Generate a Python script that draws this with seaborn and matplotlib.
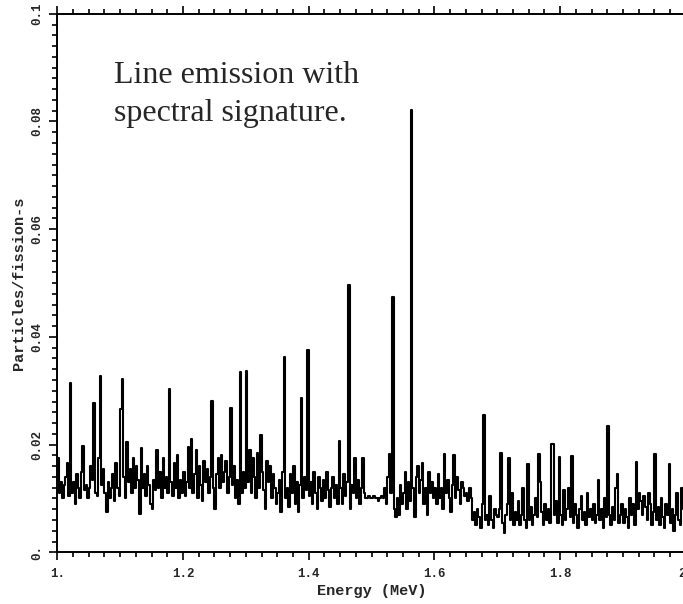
import numpy as np
import pandas as pd
import matplotlib
matplotlib.use("Agg")
import matplotlib.pyplot as plt
from matplotlib.ticker import MultipleLocator, FixedLocator, FixedFormatter
import seaborn as sns

# ---------------- data ----------------
E_START = 1.0          # MeV, lower edge of first bin
BIN_WIDTH = 0.0025     # MeV
# particles/fission-s in units of 1e-3, one value per bin (1.0 -> 2.0 MeV)
counts_milli = [
    17.5, 11, 13, 10, 12.5, 14, 16.5, 10.5, 31.5, 11, 13, 9, 14.5, 12, 10, 15, 19.8, 11.5, 12.5, 10,
    12, 16, 13.5, 27.7, 11, 10.5, 17.5, 32.7, 12.5, 15.5, 11, 7.5, 13, 10, 12, 14.5, 9.5, 16.5, 12, 10.5,
    26.6, 32.2, 14, 10, 20.5, 13, 15.5, 11, 17.5, 12, 16, 13.5, 7.2, 19.4, 12, 14.5, 10.5, 16, 12.5, 9,
    8, 13.5, 11.5, 19, 12, 15, 10, 17.5, 12, 14, 11, 30.4, 13, 10.5, 16.5, 12, 18, 10, 13.5, 11,
    15, 10.5, 13, 19.5, 12, 21, 11, 14.5, 19, 10, 16, 12.5, 9.5, 17, 13, 15.5, 11, 14, 28.1, 12,
    8, 14.5, 17.5, 12, 18, 13, 15, 17, 11, 14, 26.8, 12.5, 16, 10, 13.5, 9, 33.5, 11, 15, 12,
    33.7, 13, 19, 11, 17.5, 14, 10, 18.5, 12, 21.8, 15, 11.5, 8, 17, 13, 16, 10, 14.5, 12, 9,
    11, 13.5, 7.5, 15, 36.2, 10, 12, 8.5, 14.5, 11, 16, 9, 13, 7.5, 12.5, 28.6, 10, 14, 11.5, 37.5,
    10.5, 13, 9, 15, 11, 8, 14, 12, 9.5, 13.5, 10, 15, 11.5, 8.5, 12, 14, 10, 12.5, 9, 20.6,
    12, 9, 14.5, 10.5, 13, 49.7, 8, 12.5, 11, 17.5, 10, 13.5, 9, 12, 17.5, 11, 10, 10, 10.5, 10,
    10, 10.5, 10, 10, 9.5, 10, 10.5, 10, 12, 9, 14, 18.2, 11, 47.4, 8, 6.5, 10, 7, 12.5, 9,
    11, 15, 8, 13, 9.5, 82.2, 12, 6.5, 14, 16, 11, 13.5, 16.5, 9, 12, 7, 15, 11, 13, 10,
    12, 9, 14.5, 10, 12, 8, 18.2, 11, 13.5, 10, 7.5, 12.5, 18, 10, 14, 11.5, 9, 13, 12, 10.5,
    11, 9.5, 12, 10, 6, 7.5, 5, 8, 6.5, 4.5, 9, 25.5, 6, 7, 5, 10.5, 6, 4.5, 8, 7,
    6.5, 8, 18.4, 5.5, 3.5, 7, 9, 17.5, 6, 11, 5, 7.5, 6, 9.5, 5, 7, 12, 6, 4.5, 16.4,
    6, 8.5, 5, 7, 10, 6.5, 18.2, 13, 7.5, 5, 9, 6, 8, 5.5, 20.2, 20.2, 7, 9.5, 5.5, 17.7,
    7, 5, 11.5, 6, 8, 12, 6.5, 17.9, 5.5, 9, 7, 4.5, 8, 10.5, 6, 7.5, 5, 11, 6.5, 8,
    6, 9, 5.5, 7, 13.5, 6, 8, 4.5, 10, 6.5, 23.4, 7, 5, 8.5, 6, 12, 14.5, 5.5, 7, 9,
    5.5, 8, 6.5, 4.5, 10, 7, 9, 5, 16.8, 8, 11, 9.5, 7, 10.5, 8.5, 6, 11, 9, 5, 7.5,
    18.2, 6, 8.5, 5, 10, 6.5, 4.5, 9, 7, 16.4, 5.5, 8, 4, 7, 11, 6, 5, 12, 8, 6.5,
]

x_ticks = [1.0, 1.2, 1.4, 1.6, 1.8, 2.0]
x_tick_labels = ["1.", "1.2", "1.4", "1.6", "1.8", "2."]
y_ticks = [0.0, 0.02, 0.04, 0.06, 0.08, 0.1]
y_tick_labels = ["0.", "0.02", "0.04", "0.06", "0.08", "0.1"]
x_label = "Energy (MeV)"
y_label = "Particles/fission-s"
note = "Line emission with\nspectral signature."

# ---------------- frame ----------------
n = len(counts_milli)
energy = E_START + BIN_WIDTH * (np.arange(n) + 0.5)
df = pd.DataFrame({"energy": energy, "value": np.array(counts_milli) * 1e-3})

sns.set_style("ticks")
plt.rcParams["font.family"] = ["Liberation Mono", "DejaVu Sans Mono"]

fig = plt.figure(figsize=(6.83, 6.04), dpi=100)
ax = fig.add_axes([0.0839, 0.0856, 0.9202, 0.8916])

sns.lineplot(data=df, x="energy", y="value", ax=ax, color="black",
             linewidth=1.5, drawstyle="steps-mid", estimator=None)

ax.set_xlim(1.0, 2.0)
ax.set_ylim(0.0, 0.1)
ax.xaxis.set_major_locator(FixedLocator(x_ticks))
ax.xaxis.set_major_formatter(FixedFormatter(x_tick_labels))
ax.yaxis.set_major_locator(FixedLocator(y_ticks))
ax.yaxis.set_major_formatter(FixedFormatter(y_tick_labels))
ax.xaxis.set_minor_locator(MultipleLocator(0.025))
ax.yaxis.set_minor_locator(MultipleLocator(0.002))

for s in ax.spines.values():
    s.set_linewidth(1.4)
    s.set_color("black")
    s.set_visible(True)

ax.tick_params(which="both", direction="out", top=True, right=True,
               color="black", width=1.2)
ax.tick_params(which="major", length=6)
ax.tick_params(which="minor", length=3.5)
ax.tick_params(axis="x", labelsize=9, pad=5)
ax.tick_params(axis="y", labelsize=9, pad=4, labelrotation=90)
for lab in ax.get_xticklabels() + ax.get_yticklabels():
    lab.set_fontweight("bold")
for lab in ax.get_yticklabels():
    lab.set_va("center")

ax.set_xlabel(x_label, fontsize=11, fontweight="bold", labelpad=3)
ax.set_ylabel(y_label, fontsize=11, fontweight="bold", labelpad=4)

fig.text(114 / 683, 1 - 61 / 604, note, ha="left", va="top",
         fontsize=23, family=["Liberation Serif", "DejaVu Serif"],
         linespacing=1.4)

fig.savefig("out.png", dpi=100)
